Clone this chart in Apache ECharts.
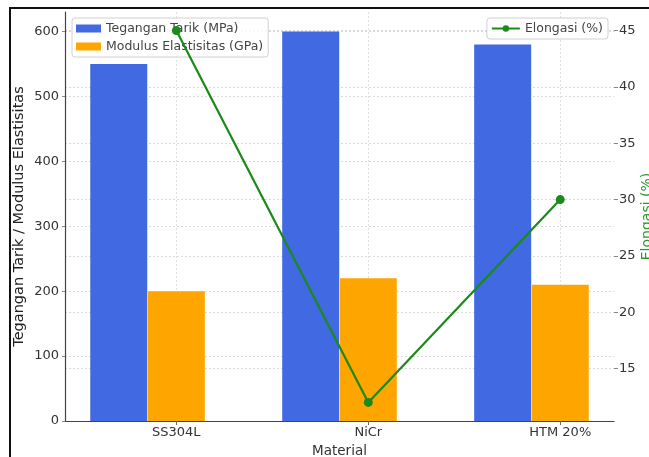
<!DOCTYPE html>
<html><head><meta charset="utf-8">
<script src="https://cdn.jsdelivr.net/npm/echarts@6/dist/echarts.min.js"></script>
<style>
html,body{margin:0;padding:0;background:#fff;overflow:hidden;}
#wrap{position:relative;width:649px;height:457px;overflow:hidden;background:#fff;}
#frame{position:absolute;left:9px;top:7px;width:660px;height:470px;border-left:2px solid #111;border-top:2px solid #111;}
#chart{position:absolute;left:0;top:0;width:649px;height:457px;}
</style></head>
<body><div id="wrap"><div id="frame"></div><div id="chart"></div></div>
<script>
const materials = ['SS304L', 'NiCr', 'HTM 20%'];
const tensile = [550, 600, 580];      // Tegangan Tarik (MPa)
const modulus = [200, 220, 210];      // Modulus Elastisitas (GPa)
const elongation = [45, 12, 30];      // Elongasi (%)
const leftTicks = [0, 100, 200, 300, 400, 500, 600];
const rightTicks = [15, 20, 25, 30, 35, 40, 45];
const BAR_SHIFT = 0.3;

const font = 'DejaVu Sans';
const chart = echarts.init(document.getElementById('chart'), null, {renderer: 'canvas'});
const gridLine = {show: true, lineStyle: {color: '#d9d9d9', type: [2, 2], width: 1}};
chart.setOption({
  animation: false,
  textStyle: {fontFamily: font},
  grid: {left: 65, right: 35, top: 12, bottom: 36, containLabel: false, outerBoundsMode: 'none'},
  legend: [
    {data: ['Tegangan Tarik (MPa)', 'Modulus Elastisitas (GPa)'], orient: 'vertical',
     left: 72, top: 18, itemWidth: 25, itemHeight: 8, itemGap: 5, icon: 'rect',
     backgroundColor: 'rgba(255,255,255,0.85)', borderColor: '#d0d0d0', borderWidth: 1, borderRadius: 3,
     padding: [4, 5, 4, 4],
     textStyle: {fontFamily: font, fontSize: 12.5, color: '#444'}},
    {data: ['Elongasi (%)'], orient: 'vertical', right: 41, top: 18,
     itemWidth: 28, itemHeight: 8,
     backgroundColor: 'rgba(255,255,255,0.85)', borderColor: '#d0d0d0', borderWidth: 1, borderRadius: 3,
     padding: [4, 5, 4, 4],
     textStyle: {fontFamily: font, fontSize: 12.5, color: '#444'}}
  ],
  xAxis: {
    type: 'value', min: -0.58, max: 2.28,
    name: 'Material', nameLocation: 'middle', nameGap: 23,
    nameTextStyle: {fontFamily: font, fontSize: 13.5, color: '#333'},
    axisLine: {show: true, onZero: false, lineStyle: {color: '#444', width: 1.2}},
    axisTick: {show: true, customValues: [0, 1, 2], length: 4, lineStyle: {color: '#666'}},
    axisLabel: {customValues: [0, 1, 2], formatter: v => materials[Math.round(v)], fontFamily: font, fontSize: 13, color: '#333', margin: 5},
    splitLine: {show: true, lineStyle: {color: '#e0e0e0', type: [2, 2], width: 1}}
  },
  yAxis: [
    {type: 'value', min: 0, max: 630, interval: 100,
     name: 'Tegangan Tarik / Modulus Elastisitas', nameLocation: 'middle', nameGap: 38, nameMoveOverlap: false,
     nameTextStyle: {fontFamily: font, fontSize: 14.5, color: '#222'},
     axisLine: {show: true, onZero: false, lineStyle: {color: '#444', width: 1.2}},
     axisTick: {show: true, customValues: leftTicks, length: 3, lineStyle: {color: '#888'}},
     axisLabel: {customValues: leftTicks, fontFamily: font, fontSize: 13, color: '#333', margin: 6},
     splitLine: gridLine},
    {type: 'value', min: 10.35, max: 46.65, position: 'right',
     name: 'Elongasi (%)', nameLocation: 'middle', nameGap: 26, nameRotate: 90, nameMoveOverlap: false,
     nameTextStyle: {fontFamily: font, fontSize: 14, color: '#2a9a2a'},
     axisLine: {show: false, onZero: false},
     axisTick: {show: true, customValues: rightTicks, length: 4, lineStyle: {color: '#888'}},
     axisLabel: {customValues: rightTicks, fontFamily: font, fontSize: 13, color: '#333', margin: 5},
     splitLine: gridLine}
  ],
  series: [
    {name: 'Tegangan Tarik (MPa)', type: 'bar', yAxisIndex: 0, barWidth: 57, barGap: '-100%',
     itemStyle: {color: '#4169E1'},
     data: tensile.map((v, i) => [i - BAR_SHIFT, v])},
    {name: 'Modulus Elastisitas (GPa)', type: 'bar', yAxisIndex: 0, barWidth: 57, barGap: '-100%',
     itemStyle: {color: '#FFA500'},
     data: modulus.map((v, i) => [i, v])},
    {name: 'Elongasi (%)', type: 'line', yAxisIndex: 1, symbol: 'circle', symbolSize: 9, z: 10,
     lineStyle: {color: '#1a8a1a', width: 2.2}, itemStyle: {color: '#1a8a1a'},
     data: elongation.map((v, i) => [i, v])}
  ]
});
</script></body></html>
